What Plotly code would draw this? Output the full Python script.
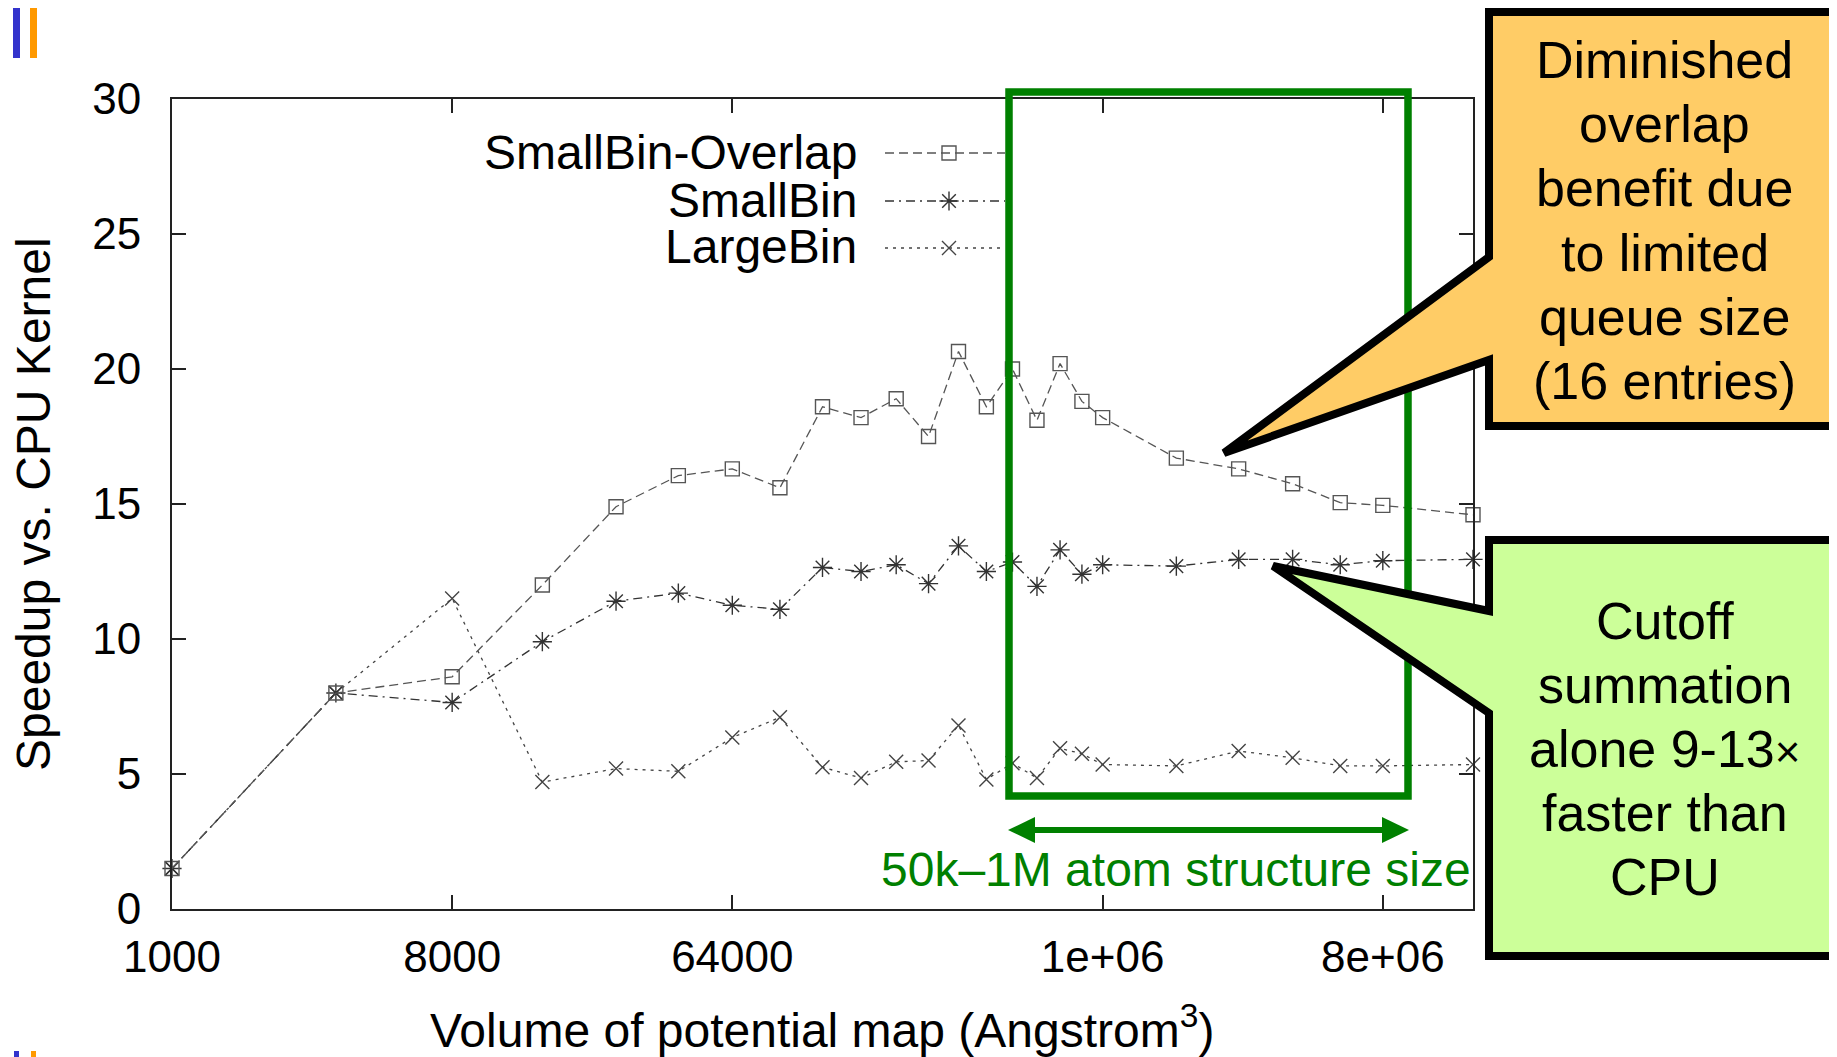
import math
import plotly.graph_objects as go

# ---------------- data ----------------
volume = [1000, 3375, 8000, 15625, 27000, 42875, 64000, 91125, 125000, 166375,
          216000, 274625, 343000, 421875, 512000, 614125, 729000, 857375,
          1000000, 1728000, 2744000, 4096000, 5832000, 8000000, 15625000]
smallbin_overlap = [1.5, 8.0, 8.6, 12.0, 14.9, 16.05, 16.3, 15.6, 18.6, 18.2,
                    18.9, 17.5, 20.65, 18.6, 20.0, 18.1, 20.2, 18.8, 18.2,
                    16.7, 16.3, 15.75, 15.05, 14.95, 14.6]
smallbin = [1.5, 8.0, 7.65, 9.9, 11.4, 11.7, 11.25, 11.1, 12.65, 12.5,
            12.75, 12.05, 13.45, 12.5, 12.85, 11.95, 13.3, 12.4, 12.75,
            12.7, 12.95, 12.95, 12.75, 12.9, 12.95]
largebin = [1.5, 8.0, 11.5, 4.7, 5.2, 5.1, 6.35, 7.1, 5.25, 4.85,
            5.45, 5.5, 6.8, 4.8, 5.4, 4.85, 5.95, 5.75, 5.35,
            5.3, 5.85, 5.6, 5.3, 5.3, 5.35]
series_names = ["SmallBin-Overlap", "SmallBin", "LargeBin"]
x_tickvals = [1000, 8000, 64000, 1000000, 8000000]
x_ticktext = ["1000", "8000", "64000", "1e+06", "8e+06"]
y_tickvals = [0, 5, 10, 15, 20, 25, 30]
orange_lines = ["Diminished", "overlap", "benefit due", "to limited",
                "queue size", "(16 entries)"]
green_lines = ["Cutoff", "summation",
               "alone 9-13<span style='font-size:44px'>×</span>",
               "faster than", "CPU"]

# ---------------- layout geometry (page pixels) ----------------
W, H = 1837, 1057
OFF = 8  # default body margin of the html page
L, R, T, B = 172, 1473, 99, 909
FONT = "Liberation Sans, Arial, Helvetica, sans-serif"
GREEN = "#008000"


def px(x):
    return (x - L) / (R - L)


def py(y):
    return (B - y) / (B - T)


def path(points):
    s = "M " + " L ".join(f"{px(a):.5f},{py(b):.5f}" for a, b in points)
    return s + " Z"


styles = [
    dict(dash="9px,5px", symbol="square-open", size=14, color="#555555"),
    dict(dash="9px,5px,2px,5px", symbol="asterisk-open", size=16, color="#333333"),
    dict(dash="3px,5px", symbol="x-thin-open", size=14, color="#444444"),
]
series = [smallbin_overlap, smallbin, largebin]

fig = go.Figure()
for name, ys, st in reversed(list(zip(series_names, series, styles))):
    fig.add_trace(go.Scatter(
        x=volume, y=ys, name=name, mode="lines+markers", cliponaxis=False,
        showlegend=False,
        line=dict(color=st["color"], width=1.3, dash=st["dash"]),
        marker=dict(symbol=st["symbol"], size=st["size"], color=st["color"],
                    line=dict(width=1.4, color=st["color"])),
    ))

# manual legend (text left, sample right) on pixel overlay axes
legend_y = [153, 201, 248]
for name, st, ly in zip(series_names, styles, legend_y):
    fig.add_trace(go.Scatter(
        x=[885, 1005], y=[ly, ly], mode="lines", xaxis="x2", yaxis="y2",
        showlegend=False, hoverinfo="skip",
        line=dict(color=st["color"], width=1.3, dash=st["dash"])))
    fig.add_trace(go.Scatter(
        x=[949], y=[ly], mode="markers", xaxis="x2", yaxis="y2",
        showlegend=False, hoverinfo="skip",
        marker=dict(symbol=st["symbol"], size=st["size"], color=st["color"],
                    line=dict(width=1.4, color=st["color"]))))

annotations = []
for name, ly in zip(series_names, legend_y):
    annotations.append(dict(text=name, x=px(858.5), y=py(ly - 1), xref="paper",
                            yref="paper", xanchor="right", yanchor="middle",
                            showarrow=False, font=dict(family=FONT, size=48,
                                                       color="black")))

# axis titles
annotations.append(dict(text="Volume of potential map (Angstrom<sup>3</sup>)",
                        x=px(822), y=py(1027), xref="paper", yref="paper",
                        xanchor="center", yanchor="middle", showarrow=False,
                        font=dict(family=FONT, size=48, color="black")))
annotations.append(dict(text="Speedup vs. CPU Kernel", textangle=-90,
                        x=px(33), y=py(504), xref="paper", yref="paper",
                        xanchor="center", yanchor="middle", showarrow=False,
                        font=dict(family=FONT, size=48, color="black")))

# green range label
annotations.append(dict(text="50k–1M atom structure size", x=px(1473),
                        y=py(869), xref="paper", yref="paper", xanchor="right",
                        yanchor="middle", showarrow=False,
                        font=dict(family=FONT, size=48, color=GREEN)))

# callout texts
for i, t in enumerate(orange_lines):
    annotations.append(dict(text=t, x=px(1665), y=py(60 + 64.2 * i),
                            xref="paper", yref="paper", xanchor="center",
                            yanchor="middle", showarrow=False,
                            font=dict(family=FONT, size=52, color="black")))
for i, t in enumerate(green_lines):
    annotations.append(dict(text=t, x=px(1665), y=py(621 + 64 * i),
                            xref="paper", yref="paper", xanchor="center",
                            yanchor="middle", showarrow=False,
                            font=dict(family=FONT, size=52, color="black")))

shapes = []
# slide decorations
for x0, x1, c in [(13, 20, "#3333CC"), (30, 37, "#FF9900")]:
    shapes.append(dict(type="rect", xref="paper", yref="paper",
                       x0=px(x0), x1=px(x1), y0=py(0), y1=py(58),
                       fillcolor=c, line=dict(width=0)))
    shapes.append(dict(type="rect", xref="paper", yref="paper",
                       x0=px(x0 + 1), x1=px(x1 - 1), y0=py(1051), y1=py(1060),
                       fillcolor=c, line=dict(width=0)))
# green range rectangle
shapes.append(dict(type="rect", xref="paper", yref="paper",
                   x0=px(1009), x1=px(1408), y0=py(796), y1=py(92),
                   line=dict(color=GREEN, width=7.5), layer="above"))
# double arrow
shapes.append(dict(type="line", xref="paper", yref="paper",
                   x0=px(1030), x1=px(1388), y0=py(830), y1=py(830),
                   line=dict(color=GREEN, width=6)))
shapes.append(dict(type="path", xref="paper", yref="paper",
                   path=path([(1008, 830), (1035, 817), (1035, 843)]),
                   fillcolor=GREEN, line=dict(width=0)))
shapes.append(dict(type="path", xref="paper", yref="paper",
                   path=path([(1409, 830), (1382, 817), (1382, 843)]),
                   fillcolor=GREEN, line=dict(width=0)))
# orange callout
shapes.append(dict(type="path", xref="paper", yref="paper", layer="above",
                   path=path([(1489, 12), (1950, 12), (1950, 426), (1489, 426),
                              (1489, 360), (1224, 453), (1489, 257)]),
                   fillcolor="#FFCC66", line=dict(color="black", width=8)))
# green callout
shapes.append(dict(type="path", xref="paper", yref="paper", layer="above",
                   path=path([(1489, 540), (1950, 540), (1950, 956), (1489, 956),
                              (1489, 713), (1273, 566), (1489, 611)]),
                   fillcolor="#CCFF99", line=dict(color="black", width=8)))

axis_common = dict(showgrid=False, zeroline=False, showline=True,
                   linecolor="#222222", linewidth=2, mirror="allticks",
                   ticks="inside", ticklen=14, tickwidth=1.5,
                   tickcolor="#222222",
                   tickfont=dict(family=FONT, size=44, color="black"))

eps = 1e-6
fig.update_layout(
    width=W - OFF, height=H - OFF, autosize=False,
    margin=dict(l=L - OFF, r=W - R, t=T - OFF, b=H - B, pad=0),
    paper_bgcolor="white", plot_bgcolor="white",
    showlegend=False,
    xaxis=dict(type="log", range=[3 - eps, math.log10(15625000) + eps],
               tickvals=x_tickvals, ticktext=x_ticktext,
               ticklabelstandoff=8, **axis_common),
    yaxis=dict(range=[-0.0001, 30.0001], tickvals=y_tickvals,
               ticklabelstandoff=20, **axis_common),
    xaxis2=dict(overlaying="x", range=[L, R], visible=False, anchor="y2"),
    yaxis2=dict(overlaying="y", range=[B, T], visible=False, anchor="x2"),
    annotations=annotations,
    shapes=shapes,
)

fig.write_html("out.html")
